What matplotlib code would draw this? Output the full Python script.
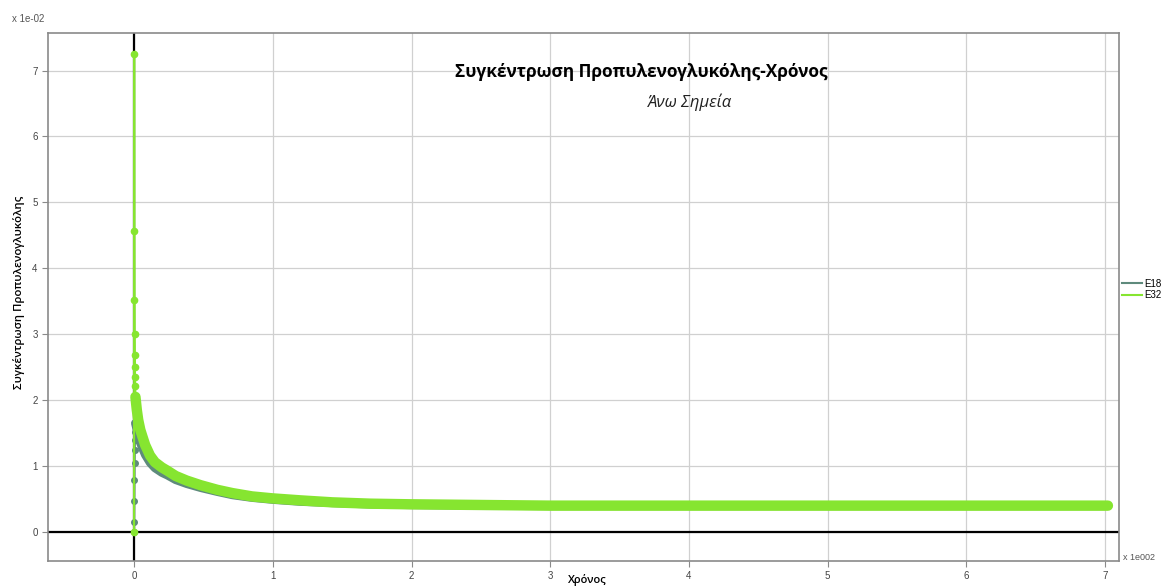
import matplotlib
matplotlib.use("Agg")
import matplotlib.pyplot as plt
import numpy as np

# Time (s) and propylene glycol concentration for the two upper sampling points
time_e18 = [0, 0.1, 0.2, 0.3, 0.4, 0.5, 0.6, 0.7, 0.8, 2, 3, 4.5, 6, 8, 11.5, 15,
            20, 24, 30, 38, 48, 60, 71, 85, 100, 120, 143, 170, 200, 250, 300,
            400, 500, 600, 700]
conc_e18 = [0, 0.0015, 0.0047, 0.0079, 0.0105, 0.0124, 0.0139, 0.0152, 0.0165,
            0.0155, 0.0145, 0.0135, 0.0127, 0.0117, 0.0105, 0.0097, 0.0090,
            0.0086, 0.0079, 0.0073, 0.0067, 0.0061, 0.0056, 0.0052, 0.0049,
            0.0046, 0.0044, 0.0042, 0.0041, 0.0040, 0.00395, 0.00395, 0.00395,
            0.00395, 0.00395]

time_e32 = [0, 0.1, 0.2, 0.3, 0.4, 0.5, 0.6, 0.7, 0.8, 1, 2, 3, 4.5, 6, 8, 11.5,
            15, 20, 24, 30, 38, 48, 60, 71, 85, 100, 120, 143, 170, 200, 250,
            300, 400, 500, 600, 702]
conc_e32 = [0, 0.0725, 0.0457, 0.0352, 0.0300, 0.0268, 0.0250, 0.0235, 0.0222,
            0.0205, 0.0185, 0.0170, 0.0155, 0.0145, 0.0132, 0.0116, 0.0106,
            0.0098, 0.0093, 0.0085, 0.0078, 0.0071, 0.0064, 0.0059, 0.0054,
            0.0051, 0.0048, 0.0045, 0.0043, 0.0042, 0.0041, 0.0040, 0.0040,
            0.0040, 0.0040, 0.0040]

x_scale = 1e2
y_scale = 1e-2

col_e18 = "#5e8a7c"
col_e32 = "#86e530"

fig = plt.figure(figsize=(11.66, 5.88), dpi=100)
ax = fig.add_axes([0.0412, 0.0459, 0.9185, 0.898])

t18 = np.array(time_e18) / x_scale
c18 = np.array(conc_e18) / y_scale
t32 = np.array(time_e32) / x_scale
c32 = np.array(conc_e32) / y_scale

ax.axhline(0, color="black", lw=1.6, zorder=2)
ax.axvline(0, color="black", lw=1.6, zorder=2)

# E18: thin trace with the early samples, thick band after the peak
ax.plot(t18, c18, color=col_e18, lw=1.5, zorder=3)
ax.plot(t18[:9], c18[:9], color=col_e18, lw=0, marker="o", ms=4, zorder=3)
ax.plot(t18[8:], c18[8:], color=col_e18, lw=6, solid_capstyle="round",
        solid_joinstyle="round", zorder=3)

# E32 on top
ax.plot(t32, c32, color=col_e32, lw=1.5, zorder=4)
ax.plot(t32[:10], c32[:10], color=col_e32, lw=0, marker="o", ms=4.5, zorder=4)
ax.plot(t32[9:], c32[9:], color=col_e32, lw=7.5, solid_capstyle="round",
        solid_joinstyle="round", zorder=4)

ax.set_xlim(-0.62, 7.10)
ax.set_ylim(-0.44, 7.57)
ax.set_xticks(range(0, 8))
ax.set_yticks(range(0, 8))
ax.grid(True, color="#d0d0d0", lw=0.9, zorder=0)
for s in ax.spines.values():
    s.set_color("#8a8a8a")
    s.set_linewidth(1.2)
ax.tick_params(labelsize=7, colors="#8a8a8a", labelcolor="#444444", length=4,
               width=0.8)
for lab in ax.get_xticklabels() + ax.get_yticklabels():
    lab.set_family("Liberation Sans")

fig.text(0.010, 0.967, "x 1e-02", fontsize=7, color="#555555",
         family="Liberation Sans", va="center")
fig.text(0.963, 0.052, "x 1e002", fontsize=6.5, color="#555555",
         family="Liberation Sans", va="center")

fig.text(0.55, 0.877, "Συγκέντρωση Προπυλενογλυκόλης-Χρόνος", fontsize=12.4,
         fontweight="bold", family="Open Sans", ha="center", va="center")
fig.text(0.592, 0.826, "Άνω Σημεία", fontsize=12, style="italic",
         family="Open Sans", ha="center", va="center", color="#222222")

fig.text(0.016, 0.502, "Συγκέντρωση Προπυλενογλυκόλης", fontsize=8.2,
         rotation=90, family="Open Sans", fontweight="semibold",
         ha="center", va="center")
fig.text(0.504, 0.013, "Χρόνος", fontsize=8, family="Open Sans",
         fontweight="semibold", ha="center", va="center")

# legend outside the plot, right side
handles = [plt.Line2D([], [], color=col_e18, lw=1.5),
           plt.Line2D([], [], color=col_e32, lw=1.5)]
fig.legend(handles, ["E18", "E32"], loc="center left",
           bbox_to_anchor=(0.959, 0.508), frameon=False, handlelength=2.0,
           handletextpad=0.25, labelspacing=0.15, borderpad=0.2,
           borderaxespad=0.2, prop={"family": "Liberation Sans", "size": 7})

fig.savefig("out.png", dpi=100)
